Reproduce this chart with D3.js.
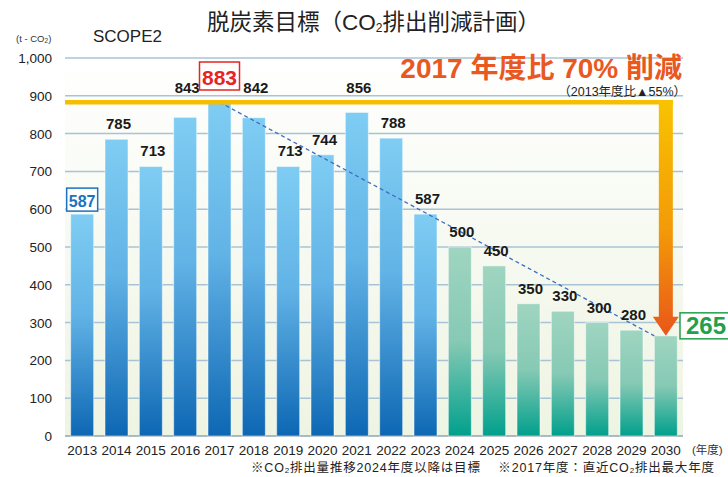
<!DOCTYPE html>
<html>
<head>
<meta charset="utf-8">
<script src="https://cdn.jsdelivr.net/npm/d3@7"></script>
<style>
  body { margin: 0; background: #fff; }
  svg { display: block; }
</style>
</head>
<body>
<svg></svg>
<script>
const years = ['2013', '2014', '2015', '2016', '2017', '2018', '2019', '2020', '2021',
    '2022', '2023', '2024', '2025', '2026', '2027', '2028', '2029', '2030'];
const emissions = [587, 785, 713, 843, 883, 842, 713, 744, 856, 788, 587, 500, 450, 350, 330, 300, 280, 265];
const yTicks = [0, 100, 200, 300, 400, 500, 600, 700, 800, 900, 1000];
const targetFrom = '2024';
const baseYear = '2017';
const firstYear = '2013';
const lastYear = '2030';

const width = 728, height = 477;
const font = '"Liberation Sans", Arial, "Noto Sans CJK JP", sans-serif';

const svg = d3.select('svg')
    .attr('width', width)
    .attr('height', height)
    .attr('font-family', font);

const x = d3.scaleBand().domain(years).range([65, 683]).paddingInner(0.33).paddingOuter(0.165);
const y = d3.scaleLinear().domain([0, 1000]).range([436, 58]);

const data = years.map((yr, i) => ({ year: yr, value: emissions[i] }));

// gradients
const defs = svg.append('defs');
function grad(id, stops) {
    let g = defs.append('linearGradient').attr('id', id)
        .attr('x1', 0).attr('y1', 0).attr('x2', 0).attr('y2', 1);
    stops.forEach(s => g.append('stop').attr('offset', s[0]).attr('stop-color', s[1]));
}
grad('bg', [[0, '#ffffff'], [1, '#eef4e2']]);
grad('blue', [[0, '#7fcdf3'], [0.45, '#62b3e6'], [1, '#0d67b3']]);
grad('teal', [[0, '#9fd5c1'], [0.5, '#86c9b4'], [1, '#00a08c']]);
grad('arrow', [[0, '#f8c300'], [0.55, '#f39a08'], [1, '#e9561a']]);

// plot background
svg.append('rect')
    .attr('x', 65).attr('y', y(1000))
    .attr('width', 683 - 65).attr('height', y(0) - y(1000))
    .attr('fill', 'url(#bg)');

// grid
svg.append('g').selectAll('line')
    .data(yTicks)
    .join('line')
    .attr('x1', 65).attr('x2', 683)
    .attr('y1', d => y(d)).attr('y2', d => y(d))
    .attr('stroke', d => d === 0 ? '#8fa6b4' : '#a8c3d5')
    .attr('stroke-width', 1.5);

// y axis labels
svg.append('g').selectAll('text')
    .data(yTicks)
    .join('text')
    .attr('x', 52)
    .attr('y', d => y(d) + 5)
    .attr('text-anchor', 'end')
    .attr('font-size', 13.5)
    .attr('fill', '#222')
    .text(d => d3.format(',')(d));

// x axis labels
svg.append('g').selectAll('text')
    .data(years)
    .join('text')
    .attr('x', d => x(d) + x.bandwidth() / 2)
    .attr('y', 455)
    .attr('text-anchor', 'middle')
    .attr('font-size', 13.5)
    .attr('fill', '#222')
    .text(d => d);

svg.append('text')
    .attr('x', 692).attr('y', 454)
    .attr('font-size', 11.5).attr('fill', '#333')
    .text('(年度)');

// bars
svg.append('g').selectAll('rect')
    .data(data)
    .join('rect')
    .attr('x', d => x(d.year))
    .attr('y', d => y(d.value))
    .attr('width', x.bandwidth())
    .attr('height', d => y(0) - y(d.value))
    .attr('fill', d => +d.year >= +targetFrom ? 'url(#teal)' : 'url(#blue)')
    .attr('stroke', 'rgba(255,255,255,0.5)')
    .attr('stroke-width', 1);

// trend line from the 2017 peak to the 2030 target
const peak = data.find(d => d.year === baseYear);
const goal = data.find(d => d.year === lastYear);
svg.append('line')
    .attr('x1', x(baseYear) + x.bandwidth() / 2)
    .attr('y1', y(peak.value))
    .attr('x2', x(lastYear))
    .attr('y2', y(goal.value))
    .attr('stroke', '#3d6fc2')
    .attr('stroke-width', 1.3)
    .attr('stroke-dasharray', '4,3');

// orange line at 2017 level + arrow down
const ax = x(lastYear) + x.bandwidth() / 2;
svg.append('line')
    .attr('x1', 65).attr('x2', ax + 7)
    .attr('y1', y(peak.value)).attr('y2', y(peak.value))
    .attr('stroke', '#f7be00')
    .attr('stroke-width', 4.5);

const headTop = y(goal.value) - 19;
svg.append('path')
    .attr('d', `M${ax - 7},${y(peak.value) - 2} L${ax + 7},${y(peak.value) - 2} L${ax + 7},${headTop}
        L${ax + 13},${headTop} L${ax},${y(goal.value)} L${ax - 13},${headTop} L${ax - 7},${headTop} Z`)
    .attr('fill', 'url(#arrow)');

// value labels
const plain = data.filter(d => d.year !== baseYear && d.year !== firstYear && d.year !== lastYear);
svg.append('g').selectAll('text')
    .data(plain)
    .join('text')
    .attr('x', d => x(d.year) + x.bandwidth() / 2 + 2)
    .attr('y', d => d.value > 820 ? y(peak.value) - 9 : y(d.value) - 10)
    .attr('text-anchor', 'middle')
    .attr('font-size', 15)
    .attr('font-weight', 'bold')
    .attr('fill', '#1a1a1a')
    .text(d => d.value);

function boxLabel(d, opts) {
    let cx = x(d.year) + x.bandwidth() / 2 + (opts.dx || 0);
    let g = svg.append('g');
    g.append('rect')
        .attr('x', opts.left !== undefined ? opts.left : cx - opts.w / 2)
        .attr('y', opts.bottom - opts.h)
        .attr('width', opts.w).attr('height', opts.h)
        .attr('fill', '#fff')
        .attr('stroke', opts.color)
        .attr('stroke-width', 1.5);
    g.append('text')
        .attr('x', opts.left !== undefined ? opts.left + opts.w / 2 : cx)
        .attr('y', opts.bottom - opts.h * 0.18)
        .attr('text-anchor', 'middle')
        .attr('font-size', opts.size)
        .attr('font-weight', 'bold')
        .attr('fill', opts.color)
        .text(d.value);
}
const first = data.find(d => d.year === firstYear);
boxLabel(first, { w: 31, h: 23, bottom: y(first.value) - 3, color: '#1b72be', size: 16 });
boxLabel(peak, { w: 40, h: 28, bottom: 90, color: '#e6251f', size: 21 });
boxLabel(goal, { w: 52, h: 26, bottom: y(goal.value) + 3, left: 680, color: '#22a04a', size: 24 });

// headings
svg.append('text')
    .attr('x', 207).attr('y', 30)
    .attr('font-size', 22.5)
    .attr('fill', '#222')
    .call(t => {
        t.append('tspan').text('脱炭素目標（CO');
        t.append('tspan').attr('font-size', 12).attr('dy', 2).text('2');
        t.append('tspan').attr('dy', -2).text('排出削減計画）');
    });

svg.append('text')
    .attr('x', 93).attr('y', 42)
    .attr('font-size', 17)
    .attr('fill', '#222')
    .text('SCOPE2');

svg.append('text')
    .attr('x', 16).attr('y', 42)
    .attr('font-size', 9.5)
    .attr('fill', '#333')
    .call(t => {
        t.append('tspan').text('(t - CO');
        t.append('tspan').attr('font-size', 6.5).attr('dy', 1).text('2');
        t.append('tspan').attr('dy', -1).text(')');
    });

svg.append('text')
    .attr('x', 682).attr('y', 78)
    .attr('text-anchor', 'end')
    .attr('font-size', 28)
    .attr('font-weight', 'bold')
    .attr('fill', '#e9581f')
    .text('2017 年度比 70% 削減');

svg.append('text')
    .attr('x', 686).attr('y', 96)
    .attr('text-anchor', 'end')
    .attr('font-size', 12.5)
    .attr('fill', '#222')
    .text('（2013年度比▲55%）');

// footnote
svg.append('text')
    .attr('x', 251).attr('y', 472)
    .attr('font-size', 12.5)
    .attr('fill', '#222')
    .attr('textLength', 463)
    .call(t => {
        t.append('tspan').text('※CO');
        t.append('tspan').attr('font-size', 8).attr('dy', 1).text('2');
        t.append('tspan').attr('dy', -1).text('排出量推移2024年度以降は目標　 ※2017年度：直近CO');
        t.append('tspan').attr('font-size', 8).attr('dy', 1).text('2');
        t.append('tspan').attr('dy', -1).text('排出最大年度');
    });
</script>
</body>
</html>
